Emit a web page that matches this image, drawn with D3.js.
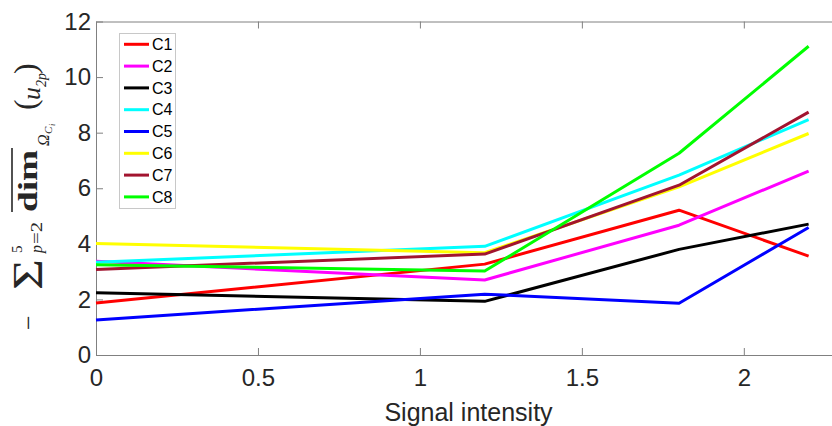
<!DOCTYPE html>
<html>
<head>
<meta charset="utf-8">
<script src="https://cdn.jsdelivr.net/npm/d3@7"></script>
<style>
  body { margin: 0; background: #fff; }
  svg { display: block; }
</style>
</head>
<body>
<div id="chart"></div>
<script>
// data
var xValues = [0, 1.2, 1.8, 2.2];
var seriesNames = ["C1", "C2", "C3", "C4", "C5", "C6", "C7", "C8"];
var seriesColors = ["#ff0000", "#ff00ff", "#000000", "#00ffff", "#0000ff", "#ffff00", "#a2142f", "#00ff00"];
var c1 = [1.87, 3.27, 5.21, 3.56];
var c2 = [3.37, 2.70, 4.67, 6.62];
var c3 = [2.24, 1.93, 3.80, 4.71];
var c4 = [3.34, 3.91, 6.47, 8.47];
var c5 = [1.26, 2.19, 1.86, 4.59];
var c6 = [4.01, 3.68, 6.05, 7.97];
var c7 = [3.08, 3.63, 6.11, 8.74];
var c8 = [3.25, 3.02, 7.26, 11.11];
var seriesValues = [c1, c2, c3, c4, c5, c6, c7, c8];
var xTicks = [0, 0.5, 1, 1.5, 2];
var yTicks = [0, 2, 4, 6, 8, 10, 12];
var xLabel = "Signal intensity";

var width = 832, height = 426;
// plot box edges (the right edge falls just outside the picture)
var boxLeft = 96, boxRight = 841, boxTop = 21.5, boxBottom = 355;
var axisColor = "#808080", textColor = "#262626";

var svg = d3.select("#chart").append("svg")
    .attr("width", width)
    .attr("height", height);

var x = d3.scaleLinear().domain([0, 2.3]).range([boxLeft, boxRight]);
var y = d3.scaleLinear().domain([0, 12]).range([boxBottom, boxTop]);

// axes box (ticks point inward, matlab style)
function styleAxis(g) {
    g.selectAll(".domain").attr("stroke", axisColor).attr("stroke-width", 1);
    g.selectAll(".tick line").attr("stroke", axisColor);
    g.selectAll(".tick text")
        .attr("fill", textColor)
        .style("font-family", "'Liberation Sans', Arial, sans-serif")
        .style("font-size", "24px");
}

svg.append("g")
    .attr("transform", "translate(0," + boxBottom + ")")
    .call(d3.axisBottom(x).tickValues(xTicks).tickSizeInner(-7).tickSizeOuter(0).tickPadding(14)
        .tickFormat(d3.format("")))
    .call(styleAxis);

svg.append("g")
    .attr("transform", "translate(0," + boxTop + ")")
    .call(d3.axisTop(x).tickValues(xTicks).tickSizeInner(-7).tickSizeOuter(0).tickFormat(""))
    .call(styleAxis);

svg.append("g")
    .attr("transform", "translate(" + boxLeft + ",0)")
    .call(d3.axisLeft(y).tickValues(yTicks).tickSizeInner(-7).tickSizeOuter(0).tickPadding(5))
    .call(styleAxis);

svg.append("g")
    .attr("transform", "translate(" + boxRight + ",0)")
    .call(d3.axisRight(y).tickValues(yTicks).tickSizeInner(-7).tickSizeOuter(0).tickFormat(""))
    .call(styleAxis);

// series lines
var line = d3.line()
    .x(function (d, i) { return x(xValues[i]); })
    .y(function (d) { return y(d); });

svg.append("g").selectAll("path")
    .data(seriesValues)
    .enter().append("path")
    .attr("d", line)
    .attr("fill", "none")
    .attr("stroke", function (d, i) { return seriesColors[i]; })
    .attr("stroke-width", 3)
    .attr("stroke-linejoin", "round");

// x label
svg.append("text")
    .attr("x", (boxLeft + boxRight) / 2)
    .attr("y", 421)
    .attr("text-anchor", "middle")
    .attr("fill", textColor)
    .style("font-family", "'Liberation Sans', Arial, sans-serif")
    .style("font-size", "25px")
    .text(xLabel);

// y label: - sum_{p=2}^{5} overline{dim}_{Omega_{C_i}} (u_{2p})
var yl = svg.append("g")
    .attr("transform", "translate(37,332) rotate(-90)")
    .attr("fill", textColor)
    .style("font-family", "'Liberation Serif', 'Times New Roman', serif");

function piece(txt, px, py, size, opts) {
    var t = yl.append("text").attr("x", px).attr("y", py).style("font-size", size + "px").text(txt);
    if (opts && opts.italic) t.style("font-style", "italic");
    if (opts && opts.bold) t.style("font-weight", "bold");
    if (opts && opts.len) t.attr("textLength", opts.len).attr("lengthAdjust", "spacingAndGlyphs");
    return t;
}
piece("\u2212", 2, 0, 26);
piece("\u03A3", 42, 5, 42, { len: 31 });
piece("5", 79, -15, 15);
piece("p", 79, 5, 16, { italic: true });
piece("=2", 88, 5, 16, { len: 22 });
piece("dim", 120, 0, 28, { bold: true, len: 62 });
yl.append("line")
    .attr("x1", 120).attr("x2", 184)
    .attr("y1", -25).attr("y2", -25)
    .attr("stroke", textColor).attr("stroke-width", 1.6);
piece("\u03A9", 186, 12, 16, { italic: true });
piece("C", 198, 15, 11, { italic: true });
piece("i", 206, 18, 8, { italic: true });
piece("(", 222, -1, 32);
piece("u", 232, 3, 26, { italic: true });
piece("2p", 245, 9, 14, { italic: true });
piece(")", 258, -1, 32);

// legend
var legX = 119.5, legY = 33.5, legW = 56, legH = 175, rowH = 21.8;
svg.append("rect")
    .attr("x", legX).attr("y", legY)
    .attr("width", legW).attr("height", legH)
    .attr("fill", "#fff")
    .attr("stroke", "#c8c8c8")
    .attr("stroke-width", 1);

var leg = svg.append("g").selectAll("g")
    .data(seriesNames)
    .enter().append("g")
    .attr("transform", function (d, i) { return "translate(0," + (44.3 + i * rowH) + ")"; });

leg.append("line")
    .attr("x1", 124).attr("x2", 149)
    .attr("stroke", function (d, i) { return seriesColors[i]; })
    .attr("stroke-width", 3);

leg.append("text")
    .attr("x", 152)
    .attr("dy", "0.36em")
    .attr("fill", "#000")
    .style("font-family", "'Liberation Sans', Arial, sans-serif")
    .style("font-size", "16px")
    .text(function (d) { return d; });
</script>
</body>
</html>
